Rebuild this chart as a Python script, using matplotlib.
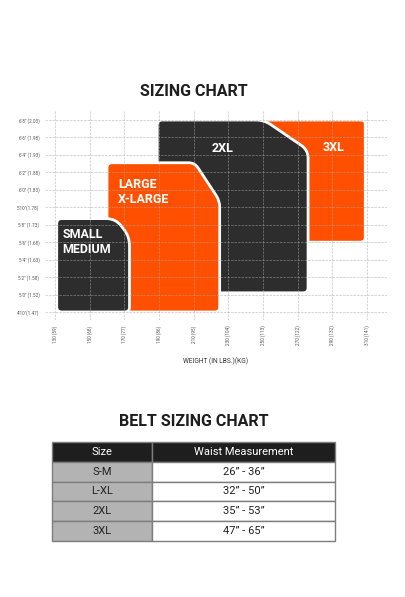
import matplotlib
matplotlib.use('Agg')
import matplotlib.pyplot as plt
from matplotlib.path import Path
from matplotlib.patches import PathPatch
import numpy as np

plt.rcParams['font.family'] = ['Roboto', 'DejaVu Sans']

# data
weight_ticks = [130, 150, 170, 190, 210, 230, 250, 270, 290, 310]
weight_labels = ['130 (59)', '150 (68)', '170 (77)', '190 (86)', '210 (95)',
                 '230 (104)', '250 (113)', '270 (122)', '290 (132)', '310 (141)']
height_ticks = [58, 60, 62, 64, 66, 68, 70, 72, 74, 76, 78, 80]
height_labels = ['4\'10"(1.47)', '5\'0" (1.52)', '5\'2" (1.58)', '5\'4" (1.63)',
                 '5\'6" (1.68)', '5\'8" (1.73)', '5\'10"(1.78)', '6\'0" (1.83)',
                 '6\'2" (1.88)', '6\'4" (1.93)', '6\'6" (1.98)', '6\'8" (2.03)']

sizes = ['SMALL\nMEDIUM', 'LARGE\nX-LARGE', '2XL', '3XL']
weight_min = [131, 160, 189, 245]
weight_max = [173, 225, 276, 309]
height_min = [58, 58, 60.2, 66]
height_max = [68.7, 75.1, 80, 80]
box_colors = ['#2e2d2d', '#fe5000', '#2e2d2d', '#fe5000']

belt_sizes = ['S-M', 'L-XL', '2XL', '3XL']
waist = ['26\u201d - 36\u201d', '32\u201d - 50\u201d', '35\u201d - 53\u201d', '47\u201d - 65\u201d']

W, H = 405, 597
fig = plt.figure(figsize=(W / 100, H / 100), dpi=100)

# chart axes
L, R, T, B = 45, 387, 110, 320
ax = fig.add_axes([L / W, 1 - B / H, (R - L) / W, (B - T) / H])
x_lo, x_hi = 130 - 10 / 1.7333, 310 + 20 / 1.7333
y_lo, y_hi = 58 - (B - 312) / 8.727, 80 + (120 - T) / 8.727
ax.set_xlim(x_lo, x_hi)
ax.set_ylim(y_lo, y_hi)
kx = (R - L) / (x_hi - x_lo)   # px per lb
ky = (B - T) / (y_hi - y_lo)   # px per inch


def box_path(x0, x1, y0, y1, cw, ch, r2, r=5):
    # rounded box with cut top-right corner, sizes in pixels
    rx, ry = r / kx, r / ky
    cx, cy = cw / kx, ch / ky
    ax2, ay2 = r2 / kx, r2 / ky
    d = np.array([cw, -ch], float)
    d = d / np.hypot(*d)
    p1 = (x1 - cx, y1)
    p2 = (x1, y1 - cy)
    verts = [(x0, y0 + ry), (x0, y1 - ry), (x0, y1), (x0 + rx, y1),
             (p1[0] - ax2, y1), p1, (p1[0] + d[0] * r2 / kx, y1 + d[1] * r2 / ky),
             (p2[0] - d[0] * r2 / kx, p2[1] - d[1] * r2 / ky), p2, (x1, p2[1] - ay2),
             (x1, y0 + ry), (x1, y0), (x1 - rx, y0),
             (x0 + rx, y0), (x0, y0), (x0, y0 + ry), (x0, y0 + ry)]
    codes = [Path.MOVETO, Path.LINETO, Path.CURVE3, Path.CURVE3,
             Path.LINETO, Path.CURVE3, Path.CURVE3,
             Path.LINETO, Path.CURVE3, Path.CURVE3,
             Path.LINETO, Path.CURVE3, Path.CURVE3,
             Path.LINETO, Path.CURVE3, Path.CURVE3, Path.CLOSEPOLY]
    return Path(verts, codes)


cuts = [(14, 18, 9), (25, 38, 6), (44, 30, 8), (0.01, 0.01, 5)]
zs = [1.4, 1.3, 1.2, 1.1]
for i in range(4):
    cw, ch, r2 = cuts[i]
    p = box_path(weight_min[i], weight_max[i], height_min[i], height_max[i], cw, ch, r2)
    ax.add_patch(PathPatch(p, facecolor=box_colors[i], edgecolor='white',
                           linewidth=2, zorder=zs[i]))

# labels inside the boxes (offsets in pixels from the top-left / top-right corner)
label_pos = [(weight_min[0], 6, 9, 'left'), (weight_min[1], 11, 15, 'left'),
             (weight_min[2], 54, 22, 'left'), (weight_max[3], -21, 21, 'right')]
for i in range(4):
    xa, dx, dy, ha = label_pos[i]
    ax.annotate(sizes[i], xy=(xa, height_max[i]), xytext=(dx, -dy),
                textcoords='offset pixels', ha=ha, va='top', color='white',
                fontsize=9, fontweight='bold', linespacing=1.25, zorder=5)

ax.set_xticks(weight_ticks)
ax.set_xticklabels(weight_labels, rotation=90, fontsize=3.3, color='#555555', va='top')
ax.set_yticks(height_ticks)
ax.set_yticklabels(height_labels, fontsize=3.3, color='#555555')
ax.tick_params(length=0, pad=4)
ax.set_axisbelow(False)
ax.grid(True, color='#a8a8a8', alpha=0.55, linewidth=0.6, linestyle=(0, (3, 1.2)))
for s in ax.spines.values():
    s.set_visible(False)

fig.text(216 / W, 1 - 361 / H, 'WEIGHT (IN LBS.)(KG)', ha='center', va='center',
         fontsize=4.8, color='#333333')

title_font = dict(fontweight='bold', color='#1e1e1e', ha='center', va='center')
fig.text(194 / W, 1 - 91 / H, 'SIZING CHART', fontsize=11.5, **title_font)
fig.text(194 / W, 1 - 421 / H, 'BELT SIZING CHART', fontsize=11.5, **title_font)

# belt table
tx0, tx1, ty0, ty1 = 52, 335, 442, 541
tax = fig.add_axes([tx0 / W, 1 - ty1 / H, (tx1 - tx0) / W, (ty1 - ty0) / H])
tax.axis('off')
cells = [[s, w] for s, w in zip(belt_sizes, waist)]
colours = [['#b3b3b3', 'white'] for _ in belt_sizes]
tbl = tax.table(cellText=cells, colLabels=['Size', 'Waist Measurement'],
                cellColours=colours, cellLoc='center', bbox=[0, 0, 1, 1],
                colWidths=[100 / 283, 183 / 283])
tbl.auto_set_font_size(False)
for (r, c), cell in tbl.get_celld().items():
    cell.set_edgecolor('#7d7d7d')
    cell.set_linewidth(1.0)
    cell.get_text().set_fontsize(8)
    cell.get_text().set_color('#222222')
    if r == 0:
        cell.set_facecolor('#1f1e1e')
        cell.get_text().set_color('white')

fig.savefig('out.png', dpi=100)
